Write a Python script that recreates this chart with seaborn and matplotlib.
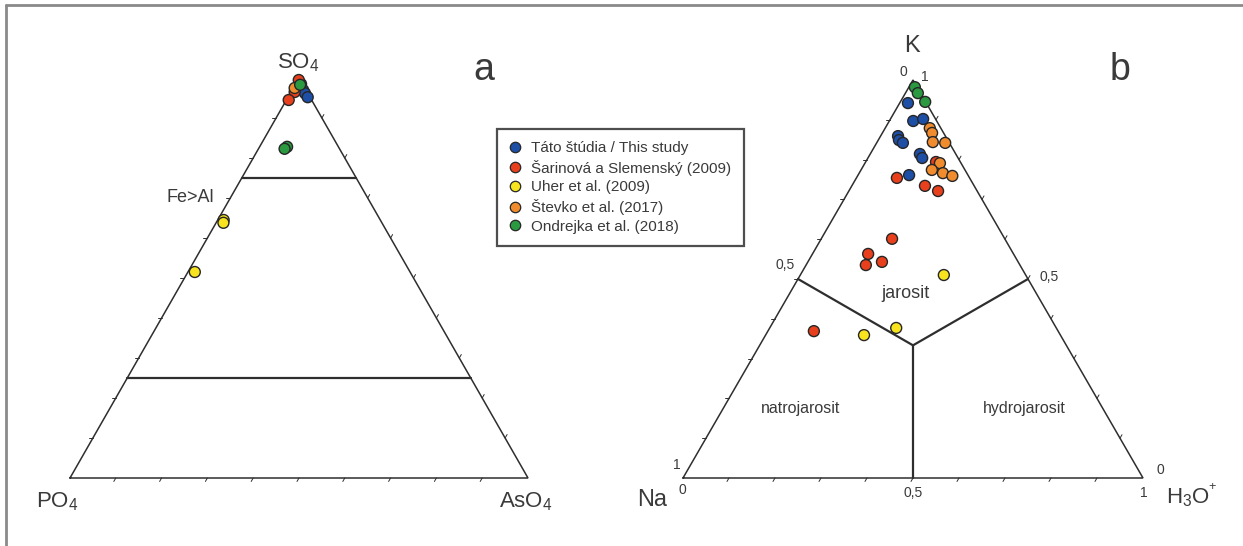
import numpy as np
import pandas as pd
import seaborn as sns
import matplotlib.pyplot as plt
from matplotlib.lines import Line2D

# %% data
sources = ['Táto štúdia / This study', 'Šarinová a Slemenský (2009)',
           'Uher et al. (2009)', 'Števko et al. (2017)', 'Ondrejka et al. (2018)']
colors = ['#1d4fa6', '#e8401c', '#f7e41f', '#f08c2e', '#2b9940']

# diagram a: (SO4, AsO4) fractions, PO4 = rest
a_this = [(0.985, 0.012), (0.970, 0.024), (0.962, 0.032), (0.952, 0.043)]
a_sarinova = [(0.995, 0.002), (0.965, 0.008), (0.945, 0.005)]
a_uher = [(0.645, 0.013), (0.638, 0.016), (0.515, 0.015)]
a_stevko = [(0.975, 0.003)]
a_ondrejka = [(0.983, 0.011), (0.828, 0.060), (0.823, 0.057)]

# diagram b: (K, H3O) fractions, Na = rest
b_this = [(0.942, 0.018), (0.897, 0.052), (0.902, 0.071), (0.859, 0.038), (0.849, 0.045),
          (0.842, 0.057), (0.814, 0.108), (0.804, 0.118), (0.761, 0.111)]
b_sarinova = [(0.794, 0.153), (0.754, 0.088), (0.734, 0.159), (0.721, 0.194), (0.601, 0.154),
              (0.563, 0.121), (0.535, 0.130), (0.543, 0.161), (0.369, 0.100)]
b_uher = [(0.510, 0.312), (0.377, 0.275), (0.359, 0.214)]
b_stevko = [(0.879, 0.097), (0.867, 0.108), (0.844, 0.121), (0.842, 0.149),
            (0.791, 0.163), (0.774, 0.154), (0.766, 0.182), (0.759, 0.206)]
b_ondrejka = [(0.982, 0.013), (0.967, 0.027), (0.945, 0.054)]

# %% layout (pixels): bottom-left corner, side length, height
tri = {'a': (70, 478, 458, 400), 'b': (683, 478, 460, 398)}


def tern(d, top, right):
    x0, y0, w, h = tri[d]
    top = np.asarray(top, float); right = np.asarray(right, float)
    return x0 + w * (right + top / 2), y0 - h * top


rows = []
for d, groups in [('a', [a_this, a_sarinova, a_uher, a_stevko, a_ondrejka]),
                  ('b', [b_this, b_sarinova, b_uher, b_stevko, b_ondrejka])]:
    for src, pts in zip(sources, groups):
        for t, r in pts:
            rows.append({'diagram': d, 'source': src, 'top': t, 'right': r})
df = pd.DataFrame(rows)
df['x'], df['y'] = zip(*[tern(d, t, r) for d, t, r in zip(df.diagram, df.top, df.right)])

# %% figure
sns.set_style('white')
plt.rcParams['font.family'] = ['Liberation Sans', 'DejaVu Sans']
plt.rcParams['mathtext.default'] = 'regular'
fig = plt.figure(figsize=(12.43, 5.46), dpi=100)
ax = fig.add_axes([0, 0, 1, 1])
ax.set_xlim(0, 1243); ax.set_ylim(546, 0)
ax.axis('off')

lc = '#2e2e2e'
tc = '#3a3a3a'

# outer frame (top + left only visible)
ax.plot([6, 1243], [5, 5], color='#8a8a8a', lw=2)
ax.plot([6, 6], [5, 546], color='#8a8a8a', lw=2)

for d in ['a', 'b']:
    xs, ys = tern(d, [0, 0, 1, 0], [0, 1, 0, 0])
    ax.plot(xs, ys, color=lc, lw=1.1, solid_joinstyle='miter')
    # ticks every 0.1
    f = np.arange(1, 10) / 10
    tl = 4
    bx, by = tern(d, np.zeros(9), f)
    lx, ly = tern(d, f, np.zeros(9))
    rx, ry = tern(d, f, 1 - f)
    for px, py in zip(bx, by):
        ax.plot([px, px - 0.5 * tl], [py, py + 0.866 * tl], color=lc, lw=0.7)
    for px, py in zip(lx, ly):
        ax.plot([px, px - tl], [py, py], color=lc, lw=0.7)
    for px, py in zip(rx, ry):
        ax.plot([px, px + 0.5 * tl], [py, py - 0.866 * tl], color=lc, lw=0.7)

# field boundaries
for t in [0.75, 0.25]:
    xs, ys = tern('a', [t, t], [0, 1 - t])
    ax.plot(xs, ys, color=lc, lw=1.6)
c = 1 / 3
for t, r in [(0.5, 0), (0.5, 0.5), (0, 0.5)]:
    xs, ys = tern('b', [c, t], [c, r])
    ax.plot(xs, ys, color=lc, lw=1.6)

sns.scatterplot(data=df, x='x', y='y', hue='source', hue_order=sources,
                palette=colors, s=62, edgecolor='#262626', linewidth=1.0,
                legend=False, ax=ax, zorder=5)

# labels
ax.text(298, 63, 'SO$_4$', fontsize=16, color=tc, ha='center', va='center')
ax.text(57, 502, 'PO$_4$', fontsize=16, color=tc, ha='center', va='center')
ax.text(526, 502, 'AsO$_4$', fontsize=16, color=tc, ha='center', va='center')
ax.text(484, 70, 'a', fontsize=27, color=tc, ha='center', va='center')
ax.text(190, 198, 'Fe>Al', fontsize=13, color=tc, ha='center', va='center')

ax.text(912, 46, 'K', fontsize=17, color=tc, ha='center', va='center')
ax.text(652, 500, 'Na', fontsize=17, color=tc, ha='center', va='center')
ax.text(1188, 498, 'H$_3$O', fontsize=16, color=tc, ha='center', va='center')
ax.text(1212, 487, '+', fontsize=9, color=tc, ha='center', va='center')
ax.text(1120, 70, 'b', fontsize=27, color=tc, ha='center', va='center')
ax.text(906, 294, 'jarosit', fontsize=13, color=tc, ha='center', va='center')
ax.text(801, 408, 'natrojarosit', fontsize=11.5, color=tc, ha='center', va='center')
ax.text(1024, 408, 'hydrojarosit', fontsize=11.5, color=tc, ha='center', va='center')
for s, x, y in [('0', 903, 72), ('1', 925, 77), ('0,5', 785, 265), ('0,5', 1049, 277),
                ('1', 677, 465), ('0', 682, 490), ('0,5', 913, 493), ('0', 1160, 470),
                ('1', 1144, 493)]:
    ax.text(x, y, s, fontsize=10, color=tc, ha='center', va='center')

# legend
handles = [Line2D([], [], marker='o', ls='', markersize=7.5, markerfacecolor=col,
                  markeredgecolor='#262626', markeredgewidth=0.9) for col in colors]
leg = ax.legend(handles, sources, loc='upper left',
                bbox_to_anchor=(497 / 1243, 1 - 129 / 546), bbox_transform=fig.transFigure,
                borderaxespad=0, frameon=True, fancybox=False, fontsize=11,
                handlelength=0.8, handletextpad=0.65, labelspacing=0.3, borderpad=0.8)
leg.get_frame().set_edgecolor('#222222')
leg.get_frame().set_linewidth(1.6)
for t in leg.get_texts():
    t.set_color(tc)

fig.savefig('out.png', dpi=100)
